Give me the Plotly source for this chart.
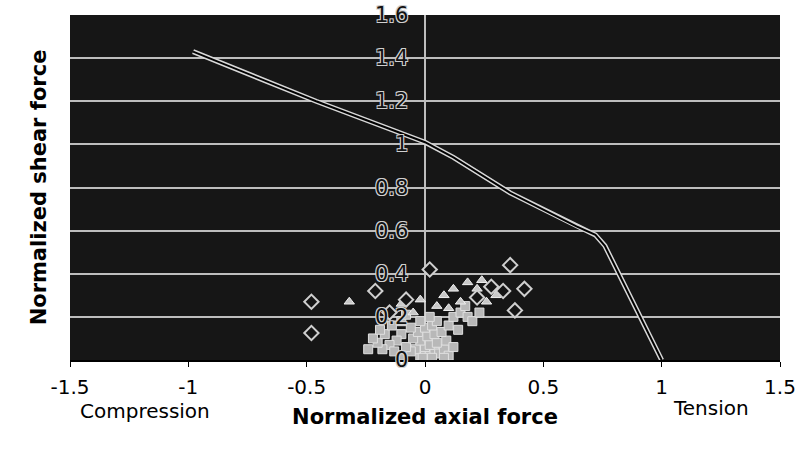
import plotly.graph_objects as go

# Interaction curve
curve_x = [-0.98, -0.46, 0.0, 0.12, 0.36, 0.64, 0.72, 0.76, 1.0]
curve_y = [1.43, 1.20, 1.01, 0.94, 0.775, 0.62, 0.58, 0.53, 0.0]

# Hollow diamond specimens
dia_x = [-0.48, -0.48, -0.21, -0.08, 0.36, 0.42, 0.33, 0.02, 0.28, 0.22, -0.15, 0.38]
dia_y = [0.27, 0.125, 0.32, 0.28, 0.44, 0.33, 0.32, 0.42, 0.34, 0.29, 0.22, 0.23]

# Light triangles
tri_x = [0.08, 0.12, 0.18, 0.22, 0.26, 0.30, 0.15, 0.05, -0.05, -0.10, -0.32, 0.24, 0.10, -0.02]
tri_y = [0.30, 0.33, 0.36, 0.33, 0.27, 0.30, 0.27, 0.25, 0.22, 0.26, 0.27, 0.37, 0.24, 0.28]

# Dense cluster near origin
clu_x = [-0.02, 0.00, 0.02, 0.04, 0.06, 0.08, -0.04, -0.06, -0.08, 0.00, 0.02, 0.05, 0.09, -0.02,
         -0.05, 0.01, 0.04, 0.07, -0.03, 0.00, 0.03, -0.06, -0.10, -0.12, -0.15, -0.18, -0.20, -0.22,
         -0.17, -0.14, -0.10, -0.08, 0.10, 0.12, 0.14, 0.10, 0.12, -0.10, -0.13, 0.05, 0.02, -0.02,
         0.15, 0.18, 0.20, 0.17, 0.23, -0.24, -0.19, 0.08, 0.03, -0.01]
clu_y = [0.02, 0.03, 0.02, 0.04, 0.03, 0.05, 0.05, 0.04, 0.06, 0.06, 0.07, 0.08, 0.09, 0.09,
         0.10, 0.11, 0.12, 0.13, 0.13, 0.15, 0.16, 0.15, 0.12, 0.09, 0.07, 0.05, 0.08, 0.10,
         0.12, 0.16, 0.18, 0.21, 0.16, 0.20, 0.14, 0.02, 0.06, 0.02, 0.04, 0.18, 0.20, 0.18,
         0.22, 0.20, 0.18, 0.25, 0.22, 0.05, 0.14, 0.01, 0.01, 0.01]

x_ticks = [-1.5, -1, -0.5, 0, 0.5, 1, 1.5]
x_tick_text = ["-1.5", "-1", "-0.5", "0", "0.5", "1", "1.5"]
y_ticks = [0, 0.2, 0.4, 0.6, 0.8, 1.0, 1.2, 1.4, 1.6]
y_tick_text = ["0", "0.2", "0.4", "0.6", "0.8", "1", "1.2", "1.4", "1.6"]

FONT = "DejaVu Sans, Liberation Sans, Arial"

fig = go.Figure()

fig.add_trace(go.Scatter(x=clu_x, y=clu_y, mode="markers",
                         marker=dict(symbol="square", size=9, color="#b8b8b8",
                                     line=dict(color="#e0e0e0", width=1)),
                         showlegend=False, hoverinfo="skip"))
fig.add_trace(go.Scatter(x=tri_x, y=tri_y, mode="markers",
                         marker=dict(symbol="triangle-up", size=9, color="#c8c8c8",
                                     line=dict(color="#f0f0f0", width=1)),
                         showlegend=False, hoverinfo="skip"))
fig.add_trace(go.Scatter(x=dia_x, y=dia_y, mode="markers",
                         marker=dict(symbol="diamond", size=11, color="#151515",
                                     line=dict(color="#cfcfcf", width=2)),
                         showlegend=False, hoverinfo="skip"))
fig.add_trace(go.Scatter(x=curve_x, y=curve_y, mode="lines",
                         line=dict(color="#d8d8d8", width=5),
                         showlegend=False, hoverinfo="skip"))
fig.add_trace(go.Scatter(x=curve_x, y=curve_y, mode="lines",
                         line=dict(color="#000000", width=2),
                         showlegend=False, hoverinfo="skip"))

halo = "1px 1px 0 #d0d0d0, -1px -1px 0 #d0d0d0, 1px -1px 0 #d0d0d0, -1px 1px 0 #d0d0d0"
for v, t in zip(y_ticks, y_tick_text):
    fig.add_annotation(x=0, y=v, xref="x", yref="y", text=t, showarrow=False,
                       xanchor="right", yanchor="middle", xshift=-15,
                       font=dict(family=FONT, size=21, color="#111111", shadow=halo))

fig.add_annotation(x=-1.183, y=-0.148, xref="x", yref="paper", text="Compression",
                   showarrow=False, yanchor="middle",
                   font=dict(family=FONT, size=20, color="#000"))
fig.add_annotation(x=1.21, y=-0.14, xref="x", yref="paper", text="Tension",
                   showarrow=False, yanchor="middle",
                   font=dict(family=FONT, size=20, color="#000"))

fig.update_layout(
    width=800, height=457,
    margin=dict(l=70, r=20, t=15, b=97, autoexpand=False),
    paper_bgcolor="white",
    plot_bgcolor="#161616",
    font=dict(family=FONT, size=19, color="#000"),
    xaxis=dict(range=[-1.5, 1.5], tickvals=x_ticks, ticktext=x_tick_text,
               ticks="outside", ticklen=5, tickcolor="#000", ticklabelstandoff=3,
               tickfont=dict(family=FONT, size=20), automargin=False,
               showgrid=False, zeroline=True, zerolinecolor="#bdbdbd", zerolinewidth=2,
               showline=True, linecolor="#000", linewidth=1.5,
               title=dict(text="<b>Normalized axial force</b>",
                          font=dict(family=FONT, size=21), standoff=12)),
    yaxis=dict(range=[0, 1.6], tickvals=y_ticks, showticklabels=False, automargin=False,
               showgrid=True, gridcolor="#bdbdbd", gridwidth=1.5, zeroline=False,
               title=dict(text="<b>Normalized shear force</b>",
                          font=dict(family=FONT, size=21), standoff=16)),
)

fig.write_html("out.html")
